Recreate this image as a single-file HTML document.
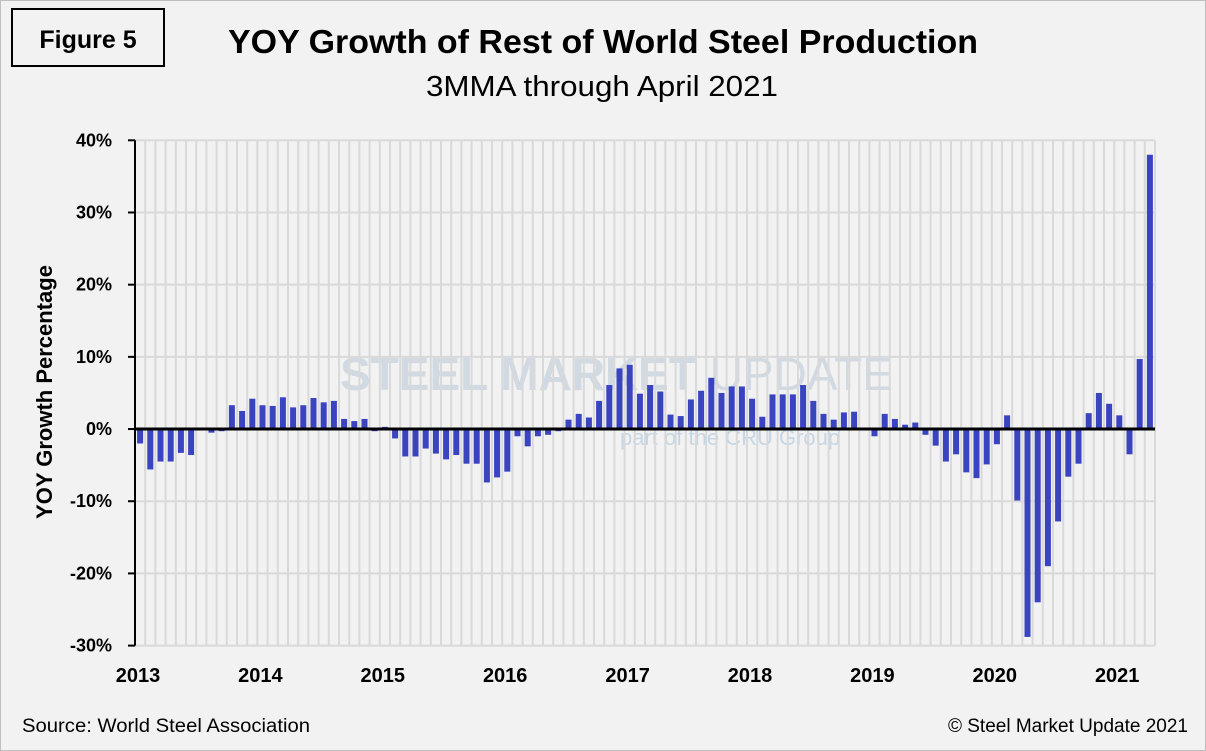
<!DOCTYPE html>
<html><head><meta charset="utf-8"><style>
body{margin:0;background:#f2f2f2;}
svg{display:block;font-family:"Liberation Sans",sans-serif;}
</style></head><body>
<svg id="chart" width="1206" height="751" viewBox="0 0 1206 751">
<rect x="0.5" y="0.5" width="1205" height="750" fill="#f2f2f2" stroke="#bfbfbf"/>
<rect x="12" y="9" width="152" height="57" fill="none" stroke="#000" stroke-width="2"/>
<text x="88" y="48" text-anchor="middle" font-size="25" font-weight="bold">Figure 5</text>
<text x="603" y="53" text-anchor="middle" font-size="33" font-weight="bold" textLength="750" lengthAdjust="spacingAndGlyphs">YOY Growth of Rest of World Steel Production</text>
<text x="602" y="96" text-anchor="middle" font-size="29" textLength="352" lengthAdjust="spacingAndGlyphs">3MMA through April 2021</text>
<text x="340" y="390" font-size="46" font-weight="bold" fill="#c9d3e0" opacity="0.8">STEEL MARKET <tspan font-weight="normal">UPDATE</tspan></text>
<text x="620" y="445" font-size="22" fill="#c5d6e6">part of the CRU Group</text>
<g id="grid"></g>
<g id="bars"></g>
<g id="axes"></g>
<text transform="translate(52,392) rotate(-90)" text-anchor="middle" font-size="22" font-weight="bold">YOY Growth Percentage</text>
<text x="22" y="732" font-size="19" textLength="288" lengthAdjust="spacingAndGlyphs">Source: World Steel Association</text>
<text x="1188" y="732" text-anchor="end" font-size="19">© Steel Market Update 2021</text>
</svg>
<script>
const values = [-2.0,-5.6,-4.5,-4.5,-3.3,-3.6,0,-0.5,-0.3,3.3,2.5,4.2,3.3,3.2,4.4,3.0,3.3,4.3,3.7,3.9,1.4,1.1,1.4,-0.3,0.3,-1.3,-3.8,-3.8,-2.7,-3.4,-4.2,-3.6,-4.8,-4.8,-7.4,-6.7,-5.9,-1.0,
-2.4,-1.0,-0.8,-0.3,1.3,2.1,1.6,3.9,6.1,8.4,8.9,4.9,6.1,5.2,2.0,1.8,4.1,5.3,7.1,5.0,5.9,5.9,4.2,1.7,4.8,4.8,4.8,6.1,3.9,2.1,1.3,2.3,2.4,0,
-1.0,2.1,1.4,0.6,0.9,-0.8,-2.3,-4.5,-3.5,-6.0,-6.8,-4.9,-2.1,1.9,-9.9,-28.8,-24.0,-19.0,-12.8,-6.6,-4.8,2.2,5.0,3.5,1.9,-3.5,9.7,38.0];
const yTicks = [40,30,20,10,0,-10,-20,-30];
const years = ["2013","2014","2015","2016","2017","2018","2019","2020","2021"];
const NS="http://www.w3.org/2000/svg";
const X0=135,X1=1155,YT=140.3,YB=645.6,VMAX=40,VMIN=-30;
const n=values.length, step=(X1-X0)/n;
const y=v=>YT+(VMAX-v)*(YB-YT)/(VMAX-VMIN);
const xc=i=>X0+step*(i+0.5);
function mk(tag,attrs,parent){const e=document.createElementNS(NS,tag);for(const k in attrs)e.setAttribute(k,attrs[k]);parent.appendChild(e);return e;}
const grid=document.getElementById('grid'),bars=document.getElementById('bars'),axes=document.getElementById('axes');
for(let i=1;i<=n;i++){const l=mk('line',{x1:X0+step*i,x2:X0+step*i,y1:YT,y2:YB,stroke:'#d9d9d9','stroke-width':2},grid);

}
yTicks.forEach(t=>{const l=mk('line',{x1:X0,x2:X1,y1:y(t),y2:y(t),stroke:'#d9d9d9','stroke-width':2},grid);


const tk=mk('line',{x1:X0-7,x2:X0,y1:y(t),y2:y(t),stroke:'#000','stroke-width':2},axes);


const tx=mk('text',{x:112,y:y(t)+6,'text-anchor':'end','font-size':18,'font-weight':'bold'},axes);tx.textContent=t+'%';

});
values.forEach((v,i)=>{const a=y(Math.max(v,0)),b=y(Math.min(v,0));
const r=mk('rect',{x:xc(i)-3,y:a,width:6,height:Math.max(b-a,0),fill:'#3a43c0'},bars);

});
const ax=mk('line',{x1:X0,x2:X0,y1:YT,y2:YB,stroke:'#000','stroke-width':2},axes);


const z=mk('line',{x1:X0,x2:X1,y1:y(0),y2:y(0),stroke:'#000','stroke-width':3},axes);


years.forEach((yr,k)=>{const t=mk('text',{x:X0+step*12*k+3,y:682,'text-anchor':'middle','font-size':20,'font-weight':'bold'},axes);t.textContent=yr;

});
</script>
</body></html>
